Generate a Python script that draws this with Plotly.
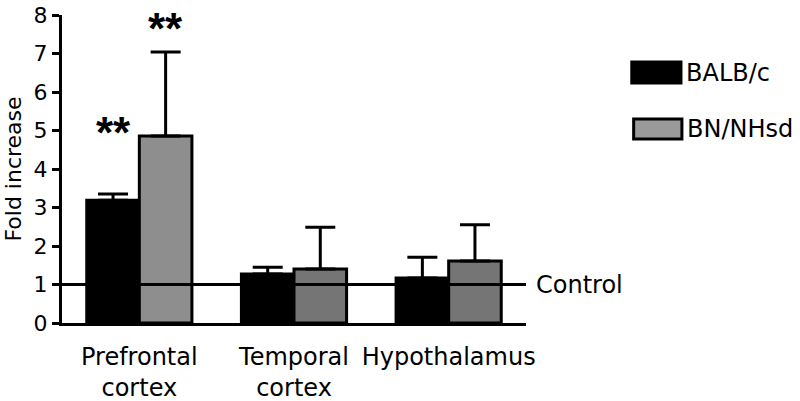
import plotly.graph_objects as go

# data
regions = ["Prefrontal<br>cortex", "Temporal<br>cortex", "Hypothalamus"]
strains = ["BALB/c", "BN/NHsd"]
balb = [3.19, 1.27, 1.17]
balb_err = [0.16, 0.18, 0.54]
bn = [4.86, 1.40, 1.61]
bn_err = [2.18, 1.09, 0.94]
control_level = 1
stars = ["**", "**", "", "", "", ""]  # balb/bn per region

FONT = "DejaVu Sans"
bn_colors = ["#8e8e8e", "#757575", "#757575"]

fig = go.Figure()
for vals, errs, color in [(balb, balb_err, "black"), (bn, bn_err, bn_colors)]:
    fig.add_trace(
        go.Bar(
            x=regions,
            y=vals,
            marker=dict(color=color, line=dict(color="black", width=3)),
            error_y=dict(
                type="data",
                symmetric=False,
                array=errs,
                arrayminus=[0] * len(errs),
                color="black",
                thickness=3,
                width=15,
            ),
            showlegend=False,
            hoverinfo="skip",
        )
    )

# control line across the plot, drawn over the bars
fig.add_shape(
    type="line", xref="paper", x0=0, x1=1, yref="y", y0=control_level, y1=control_level,
    line=dict(color="black", width=3), layer="above",
)
fig.add_annotation(
    text="Control", xref="paper", x=1, xanchor="left", xshift=8, yref="y", y=control_level,
    showarrow=False, font=dict(size=24),
)

# significance stars
star_levels = [4.95, 7.65]
for i, reg in enumerate(regions):
    for j, shift in enumerate([-26, 26]):
        s = stars[2 * i + j]
        if s:
            fig.add_annotation(
                text="<b>%s</b>" % s, x=reg, xshift=shift, y=star_levels[j], yanchor="middle",
                showarrow=False, font=dict(size=44, family="Liberation Sans"),
            )

# hand-made legend with wide swatches
legend_fill = ["black", "#9a9a9a"]
legend_boxes = [(1.228, 1.334, 0.779, 0.847), (1.232, 1.336, 0.597, 0.662)]
for name, fill, (x0, x1, y0, y1) in zip(strains, legend_fill, legend_boxes):
    fig.add_shape(
        type="rect", xref="paper", yref="paper", x0=x0, x1=x1, y0=y0, y1=y1,
        fillcolor=fill, line=dict(color="black", width=3),
    )
    fig.add_annotation(
        text=name, xref="paper", yref="paper", x=x1 + 0.006, y=(y0 + y1) / 2,
        xanchor="left", yanchor="middle", showarrow=False, font=dict(size=24),
    )

fig.update_layout(
    width=800,
    height=401,
    margin=dict(l=62, r=274, t=15, b=78),
    plot_bgcolor="white",
    paper_bgcolor="white",
    font=dict(family=FONT, color="black", size=22),
    barmode="group",
    bargap=0.32,
    bargroupgap=0,
    xaxis=dict(
        showline=True, linecolor="black", linewidth=3, ticks="",
        tickfont=dict(size=24), ticklabelstandoff=10, range=[-0.5, 2.5],
        automargin=False,
    ),
    yaxis=dict(
        range=[0, 8], dtick=1, showline=True, linecolor="black", linewidth=3,
        ticks="outside", ticklen=7, tickwidth=3, tickcolor="black",
        showgrid=False, zeroline=False, automargin=False,
        title=dict(text="Fold increase", standoff=6, font=dict(size=22)),
    ),
)

# page body has a default margin; drop it so the figure sits at the corner
fig.write_html(
    "out.html",
    config={"displayModeBar": False},
    post_script="document.body.style.margin = '0';",
)
